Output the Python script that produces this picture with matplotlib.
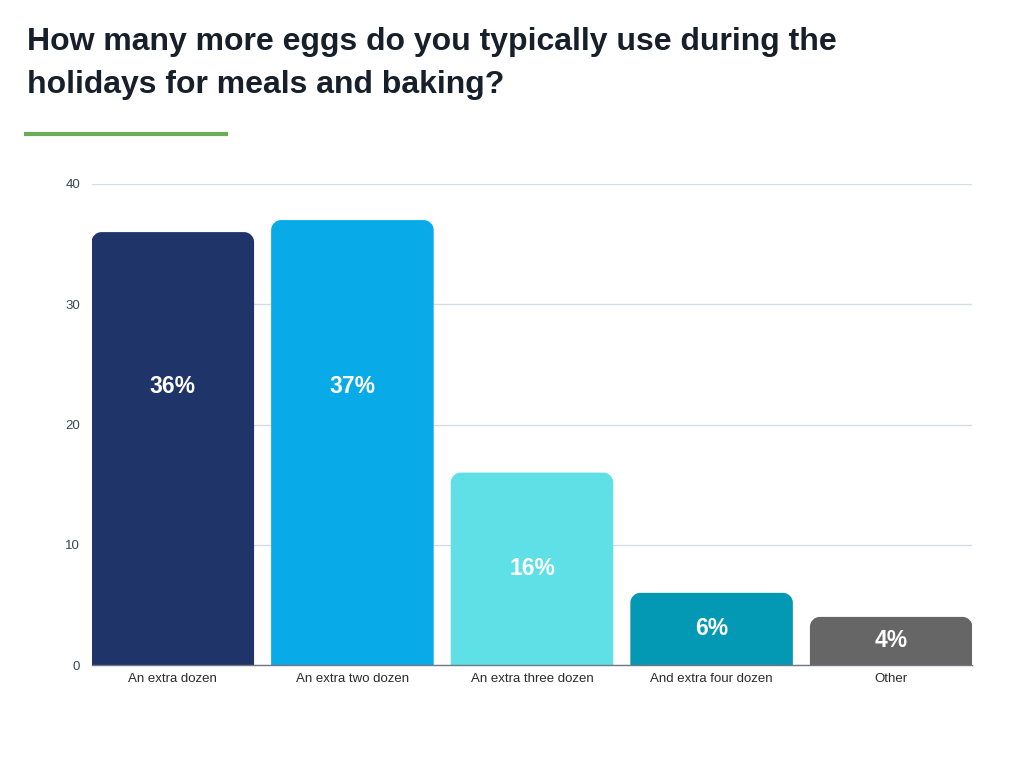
import matplotlib
matplotlib.use("Agg")
import matplotlib.pyplot as plt
from matplotlib.path import Path
from matplotlib.patches import PathPatch
from matplotlib.lines import Line2D

plt.rcParams['font.family'] = ['Liberation Sans', 'DejaVu Sans']

categories = ["An extra dozen", "An extra two dozen", "An extra three dozen",
              "And extra four dozen", "Other"]
values = [36, 37, 16, 6, 4]
value_labels = ["36%", "37%", "16%", "6%", "4%"]
colors = ["#1f3569", "#08aae8", "#5ee0e6", "#0399b4", "#666666"]
yticks = [0, 10, 20, 30, 40]
title_lines = ["How many more eggs do you typically use during the",
               "holidays for meals and baking?"]

W, H = 1024, 768
fig = plt.figure(figsize=(W / 100, H / 100), dpi=100)
ax = fig.add_axes([92 / W, 1 - 665 / H, 880 / W, (665 - 184) / H])

ax.set_xlim(-0.45, len(categories) - 0.55)
ax.set_ylim(0, 40)

bw = 0.905
bars = ax.bar(range(len(values)), values, width=bw, color=colors, zorder=2)

# replace with rounded-top bars
rx = 10 / (880 / (len(categories) - 0.1))
ry = 10 / ((665 - 184) / 40)
k = 0.5523
for b, c in zip(bars, colors):
    x0, y0 = b.get_x(), b.get_y()
    w, h = b.get_width(), b.get_height()
    x1, y1 = x0 + w, y0 + h
    verts = [(x0, y0), (x0, y1 - ry),
             (x0, y1 - ry + k * ry), (x0 + rx - k * rx, y1), (x0 + rx, y1),
             (x1 - rx, y1),
             (x1 - rx + k * rx, y1), (x1, y1 - ry + k * ry), (x1, y1 - ry),
             (x1, y0), (x0, y0)]
    codes = [Path.MOVETO, Path.LINETO,
             Path.CURVE4, Path.CURVE4, Path.CURVE4,
             Path.LINETO,
             Path.CURVE4, Path.CURVE4, Path.CURVE4,
             Path.LINETO, Path.CLOSEPOLY]
    b.set_visible(False)
    ax.add_patch(PathPatch(Path(verts, codes), facecolor=c, edgecolor='none', zorder=2))

# labels: tall bars share a common label height, short bars centred
label_cap = 23.2
for i, (v, lab) in enumerate(zip(values, value_labels)):
    y = label_cap if v > 30 else v / 2
    ax.text(i, y, lab, ha='center', va='center', color='white',
            fontsize=16.5, fontweight='bold', zorder=3)

ax.set_yticks(yticks)
ax.set_yticklabels([str(t) for t in yticks])
ax.set_xticks(range(len(categories)))
ax.set_xticklabels(categories)
ax.tick_params(axis='y', length=0, pad=8.5, labelsize=9.5, labelcolor='#3a4652')
ax.tick_params(axis='x', length=0, pad=6, labelsize=9.5, labelcolor='#2b2b2b')
ax.grid(axis='y', color='#d3dde6', linewidth=1, zorder=0)
ax.set_axisbelow(True)
for s in ['top', 'right', 'left']:
    ax.spines[s].set_visible(False)
ax.spines['bottom'].set_color('#6f7780')
ax.spines['bottom'].set_linewidth(1)
ax.spines['bottom'].set_zorder(4)

fig.text(27 / W, 1 - 50 / H, title_lines[0], fontsize=23, fontweight='bold',
         color='#17202a', va='baseline', ha='left')
fig.text(27 / W, 1 - 93 / H, title_lines[1], fontsize=23, fontweight='bold',
         color='#17202a', va='baseline', ha='left')
fig.add_artist(Line2D([24 / W, 228 / W], [1 - 133.5 / H, 1 - 133.5 / H],
                      color='#6aab55', linewidth=3, solid_capstyle='butt'))

fig.savefig("out.png", dpi=100, facecolor='white')
